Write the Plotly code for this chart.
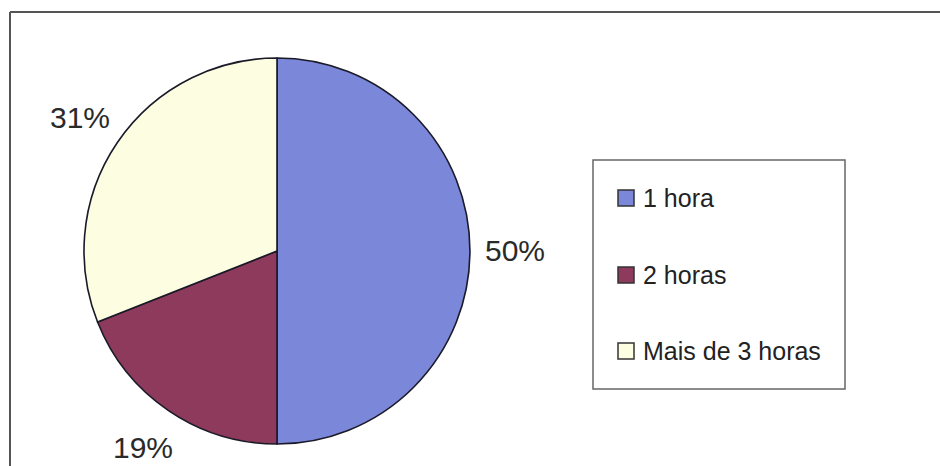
import math
import plotly.graph_objects as go

categories = ["1 hora", "2 horas", "Mais de 3 horas"]
values = [50, 19, 31]
colors = ["#7b87d8", "#8e3a5c", "#fdfde2"]

W, H = 940, 466
# pie geometry (pixels)
cx, cy, r = 277, 251, 193
label_r = 238

fig = go.Figure()
fig.add_trace(go.Pie(
    labels=categories, values=values, sort=False, direction="clockwise",
    rotation=0, textinfo="none", hoverinfo="label+percent",
    marker=dict(colors=colors, line=dict(color="#1a1a28", width=1.6)),
    domain=dict(x=[(cx - r) / W, (cx + r) / W], y=[(H - cy - r) / H, (H - cy + r) / H]),
    showlegend=False,
))

# percent labels placed along each slice's middle angle
total = sum(values)
ann = []
acc = 0
for v in values:
    mid = (acc + v / 2) / total * 2 * math.pi
    acc += v
    px = cx + label_r * math.sin(mid)
    py = cy - label_r * math.cos(mid)
    ann.append(dict(x=px / W, y=1 - py / H, xref="paper", yref="paper",
                    text=f"{round(v / total * 100)}%", showarrow=False,
                    font=dict(family="Liberation Sans, Arial", size=30, color="#2a2a2a"),
                    xanchor="center", yanchor="middle"))

# custom legend
shapes = []
leg_x0, leg_x1, leg_y0, leg_y1 = 593, 845, 160, 389
shapes.append(dict(type="rect", xref="paper", yref="paper",
                   x0=leg_x0 / W, x1=leg_x1 / W, y0=1 - leg_y1 / H, y1=1 - leg_y0 / H,
                   line=dict(color="#666666", width=1.5), fillcolor="rgba(0,0,0,0)"))
row_y = [198, 275, 351]
for name, col, yy in zip(categories, colors, row_y):
    shapes.append(dict(type="rect", xref="paper", yref="paper",
                       x0=618 / W, x1=634 / W, y0=1 - (yy + 8) / H, y1=1 - (yy - 8) / H,
                       line=dict(color="#333333", width=1.5), fillcolor=col))
    ann.append(dict(x=641 / W, y=1 - yy / H, xref="paper", yref="paper", text=name,
                    showarrow=False, xanchor="left", yanchor="middle",
                    font=dict(family="Liberation Sans, Arial", size=25, color="#222222")))

# outer frame (left and top edges visible)
shapes.append(dict(type="line", xref="paper", yref="paper", x0=10 / W, x1=1.0,
                   y0=1 - 12 / H, y1=1 - 12 / H, line=dict(color="#555555", width=2)))
shapes.append(dict(type="line", xref="paper", yref="paper", x0=10 / W, x1=10 / W,
                   y0=0, y1=1 - 12 / H, line=dict(color="#555555", width=2)))

fig.update_layout(
    width=W, height=H, margin=dict(l=0, r=0, t=0, b=0),
    paper_bgcolor="white", plot_bgcolor="white",
    annotations=ann, shapes=shapes,
)
fig.write_html("out.html", config={"displayModeBar": False},
               post_script="document.body.style.margin='0';document.body.style.overflow='hidden';")
